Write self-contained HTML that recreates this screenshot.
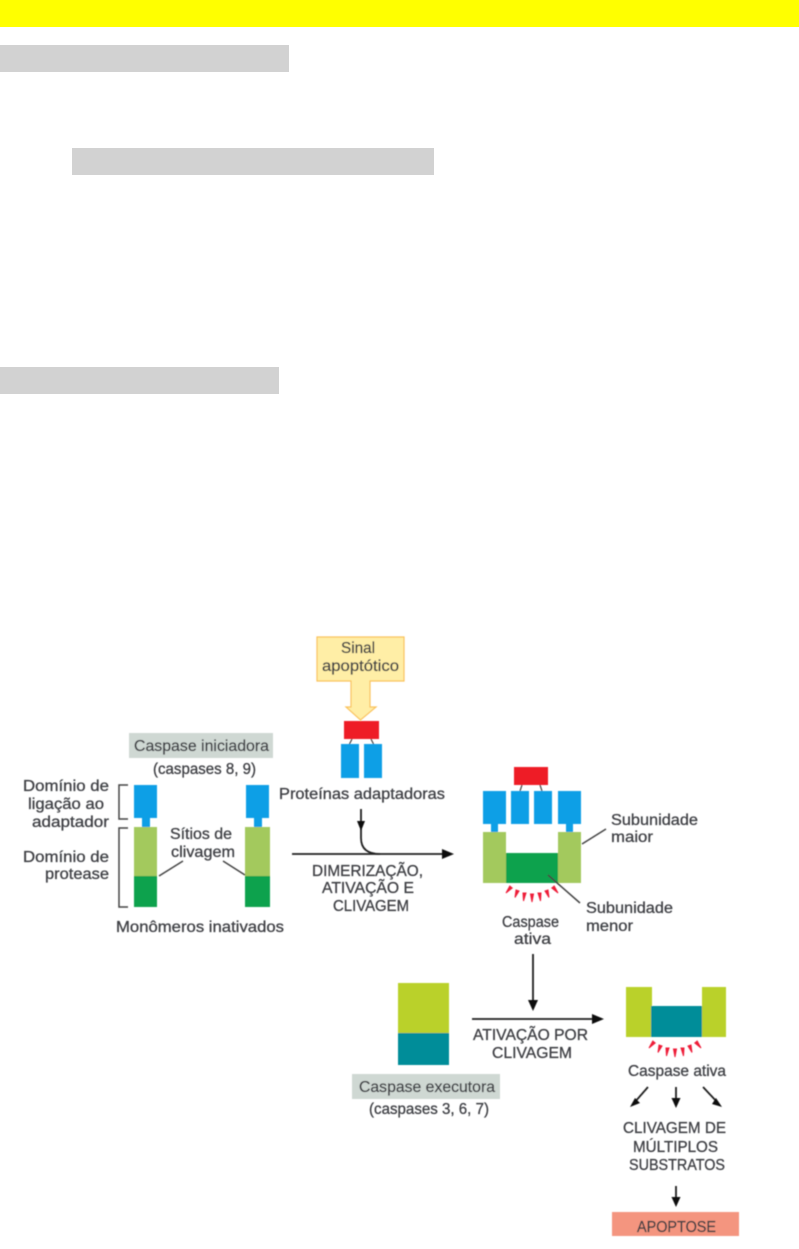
<!DOCTYPE html>
<html><head><meta charset="utf-8"><style>
html,body{margin:0;padding:0;background:#fff}
svg{display:block}
.t{font-family:"Liberation Sans",sans-serif;font-size:16px;fill:#3f4045;stroke:#3f4045;stroke-width:.3px}
.b{filter:url(#bl)}
</style></head><body>
<svg width="799" height="1249" viewBox="0 0 799 1249" xmlns="http://www.w3.org/2000/svg">
<defs><filter id="bl" x="-2%" y="-2%" width="104%" height="104%"><feGaussianBlur stdDeviation="0.5"/></filter></defs>
<rect width="799" height="1249" fill="#fff"/>
<rect x="0" y="0" width="799" height="27" fill="#ffff00"/>
<rect x="0" y="45" width="289" height="27" fill="#d2d2d2"/>
<rect x="72" y="148" width="362" height="27" fill="#d2d2d2"/>
<rect x="0" y="367" width="279" height="27" fill="#d2d2d2"/>
<g class="b">
<!-- signal -->
<path d="M317 637H404V681H370V707H376L360.500 720L346 707H351V681H317Z" fill="#ffeea6" stroke="#fac25c" stroke-width="1.200"/>
<rect x="344" y="721" width="35" height="18" fill="#ee1c25"/>
<path d="M352 739L349 745M371 739L374 745" stroke="#444" stroke-width="1.200"/>
<rect x="341" y="744" width="18" height="34" fill="#0a9fe6"/>
<rect x="364" y="744" width="18" height="34" fill="#0a9fe6"/>
<!-- initiator -->
<rect x="129" y="733" width="144" height="25" fill="#cfd8d3"/>
<g fill="#0a9fe6">
<rect x="134" y="785" width="23" height="33"/><rect x="142" y="818" width="8" height="9"/>
<rect x="246" y="785" width="23" height="33"/><rect x="254" y="818" width="8" height="9"/>
</g>
<rect x="134" y="827" width="23" height="49" fill="#a3c95d"/><rect x="134" y="876" width="23" height="31" fill="#0ba24e"/>
<rect x="245" y="827" width="25" height="49" fill="#a3c95d"/><rect x="245" y="876" width="25" height="31" fill="#0ba24e"/>
<path d="M128 785H119V819H128M128 828H119V907H128" fill="none" stroke="#444" stroke-width="1.500"/>
<path d="M159 876L183 861M223 861L245 875" fill="none" stroke="#444" stroke-width="1.500"/>
<!-- main arrow -->
<path d="M292 854H446" stroke="#222" stroke-width="1.800"/><path d="M442 849L454 854L442 859Z" fill="#111"/>
<path d="M361 809V838Q361 854 380 854" fill="none" stroke="#222" stroke-width="1.800"/>
<path d="M357 821H365L361 831Z" fill="#111"/>
<!-- active initiator -->
<rect x="514" y="767" width="34" height="18" fill="#ee1c25"/>
<path d="M522 785L520 791M540 785L542 791" stroke="#444" stroke-width="1.200"/>
<g fill="#0a9fe6">
<rect x="483" y="791" width="23" height="33"/><rect x="511" y="791" width="18" height="33"/>
<rect x="534" y="791" width="18" height="33"/><rect x="558" y="791" width="23" height="33"/>
<rect x="491" y="824" width="7" height="8"/><rect x="566" y="824" width="7" height="8"/>
</g>
<rect x="483" y="832" width="23" height="51" fill="#a3c95d"/><rect x="558" y="832" width="23" height="51" fill="#a3c95d"/>
<rect x="506" y="853" width="52" height="30" fill="#0ba24e"/>
<path d="M582 844L606 829M548 875L580 903" stroke="#444" stroke-width="1.500"/>
<g fill="#ee1c38" stroke="#ee1c38" stroke-width="1">
<polygon points="512.200,888 509.800,886 506,893"/>
<polygon points="519,891 516,890 515,897.500"/>
<polygon points="526,893 523,893 523.500,901"/>
<polygon points="533.500,894 530.500,894 532,902"/>
<polygon points="541,893 538,893 540.500,901"/>
<polygon points="548,890 545,891 549,897.500"/>
<polygon points="554.200,886 551.800,888 558,893"/>
</g>
<path d="M533 954V1003" stroke="#222" stroke-width="1.800"/><path d="M528 1000H538L533 1011Z" fill="#111"/>
<!-- executor -->
<rect x="398" y="983" width="51" height="50" fill="#bad12c"/><rect x="398" y="1033" width="51" height="32" fill="#008d99"/>
<path d="M472 1019H597" stroke="#222" stroke-width="1.800"/><path d="M592 1014L604 1019L592 1024Z" fill="#111"/>
<rect x="352" y="1074" width="148" height="25" fill="#cfd8d3"/>
<rect x="626" y="987" width="26" height="50" fill="#bad12c"/><rect x="702" y="987" width="24" height="50" fill="#bad12c"/>
<rect x="651" y="1006" width="51" height="31" fill="#008d99"/>
<g fill="#ee1c38" stroke="#ee1c38" stroke-width="1" transform="translate(143,155)">
<polygon points="512.200,888 509.800,886 506,893"/>
<polygon points="519,891 516,890 515,897.500"/>
<polygon points="526,893 523,893 523.500,901"/>
<polygon points="533.500,894 530.500,894 532,902"/>
<polygon points="541,893 538,893 540.500,901"/>
<polygon points="548,890 545,891 549,897.500"/>
<polygon points="554.200,886 551.800,888 558,893"/>
</g>
<!-- small arrows -->
<path d="M648 1087L634 1103M676 1087V1101M703 1087L718 1103M676 1186V1200" stroke="#222" stroke-width="1.800"/>
<path d="M635 1098L630 1107L640 1103Z" fill="#111"/><path d="M671.500 1098H680.500L676 1108Z" fill="#111"/>
<path d="M716 1098L722 1107L712 1104Z" fill="#111"/><path d="M671.500 1197H680.500L676 1207Z" fill="#111"/>
<rect x="612" y="1212" width="127" height="24" fill="#f4957f"/>
<!-- labels -->
<g class="t">
<text x="341" y="653" textLength="34" lengthAdjust="spacingAndGlyphs">Sinal</text>
<text x="322" y="671" textLength="77" lengthAdjust="spacingAndGlyphs">apoptótico</text>
<text x="134" y="751" textLength="135" lengthAdjust="spacingAndGlyphs">Caspase iniciadora</text>
<text x="153" y="774" textLength="103" lengthAdjust="spacingAndGlyphs">(caspases 8, 9)</text>
<text x="23" y="791" textLength="86" lengthAdjust="spacingAndGlyphs">Domínio de</text>
<text x="28" y="809" textLength="76" lengthAdjust="spacingAndGlyphs">ligação ao</text>
<text x="32" y="827" textLength="77" lengthAdjust="spacingAndGlyphs">adaptador</text>
<text x="23" y="862" textLength="86" lengthAdjust="spacingAndGlyphs">Domínio de</text>
<text x="45" y="879" textLength="64" lengthAdjust="spacingAndGlyphs">protease</text>
<text x="170" y="839" textLength="62" lengthAdjust="spacingAndGlyphs">Sítios de</text>
<text x="171" y="857" textLength="64" lengthAdjust="spacingAndGlyphs">clivagem</text>
<text x="116" y="932" textLength="168" lengthAdjust="spacingAndGlyphs">Monômeros inativados</text>
<text x="279" y="799" textLength="166" lengthAdjust="spacingAndGlyphs">Proteínas adaptadoras</text>
<text x="312" y="876" textLength="111" lengthAdjust="spacingAndGlyphs">DIMERIZAÇÃO,</text>
<text x="322" y="893" textLength="92" lengthAdjust="spacingAndGlyphs">ATIVAÇÃO E</text>
<text x="333" y="911" textLength="76" lengthAdjust="spacingAndGlyphs">CLIVAGEM</text>
<text x="611" y="825" textLength="87" lengthAdjust="spacingAndGlyphs">Subunidade</text>
<text x="611" y="842" textLength="42" lengthAdjust="spacingAndGlyphs">maior</text>
<text x="586" y="913" textLength="87" lengthAdjust="spacingAndGlyphs">Subunidade</text>
<text x="586" y="931" textLength="47" lengthAdjust="spacingAndGlyphs">menor</text>
<text x="502" y="927" textLength="57" lengthAdjust="spacingAndGlyphs">Caspase</text>
<text x="514" y="944" textLength="37" lengthAdjust="spacingAndGlyphs">ativa</text>
<text x="473" y="1040" textLength="115" lengthAdjust="spacingAndGlyphs">ATIVAÇÃO POR</text>
<text x="492" y="1058" textLength="80" lengthAdjust="spacingAndGlyphs">CLIVAGEM</text>
<text x="359" y="1092" textLength="136" lengthAdjust="spacingAndGlyphs">Caspase executora</text>
<text x="369" y="1114" textLength="120" lengthAdjust="spacingAndGlyphs">(caspases 3, 6, 7)</text>
<text x="628" y="1076" textLength="98" lengthAdjust="spacingAndGlyphs">Caspase ativa</text>
<text x="623" y="1133" textLength="103" lengthAdjust="spacingAndGlyphs">CLIVAGEM DE</text>
<text x="633" y="1152" textLength="85" lengthAdjust="spacingAndGlyphs">MÚLTIPLOS</text>
<text x="629" y="1170" textLength="96" lengthAdjust="spacingAndGlyphs">SUBSTRATOS</text>
<text x="637" y="1232" textLength="79" lengthAdjust="spacingAndGlyphs">APOPTOSE</text>
</g>
</g>
</svg>
</body></html>
